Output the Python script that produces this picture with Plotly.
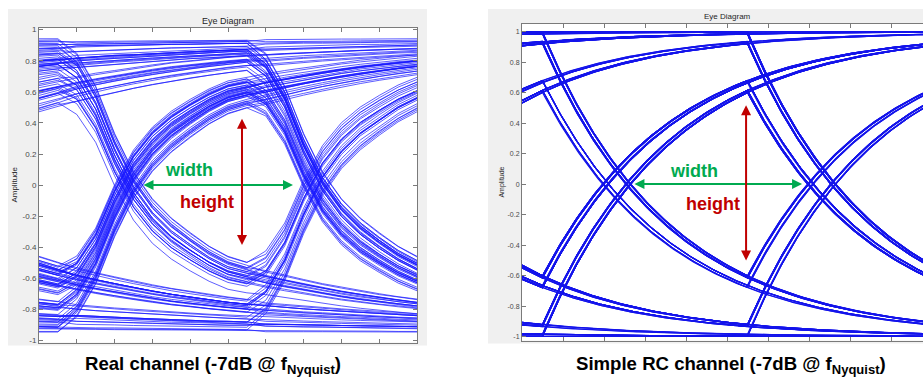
import numpy as np
import plotly.graph_objects as go

# ---------------------------------------------------------------------------
# Data
# ---------------------------------------------------------------------------
# NRZ bit stream sent through both channels (1 -> +level, 0 -> -level)
BIT_STREAM = (
    "11111110100110000001101011110010"
    "11100000110110011111110101110110"
    "00010000001011001110100011111001"
    "01101000001110110100111100001011"
    "10011010000000110101111110010011"
    "00101110000110111111010010000110"
    "1011000111101001"
    "01110010110000111010011011111000"
    "10100111001011100000101101001110"
    "11001000111110110100001011100110"
)
BITS = [int(c) for c in BIT_STREAM]

# Axis ticks (time in unit intervals, normalised amplitude)
X_TICKS = [0.0, 0.2, 0.4, 0.6, 0.8, 1.0, 1.2, 1.4, 1.6, 1.8, 2.0]
Y_TICKS = [-1.0, -0.8, -0.6, -0.4, -0.2, 0.0, 0.2, 0.4, 0.6, 0.8, 1.0]
Y_TICK_TEXT = ["-1", "-0.8", "-0.6", "-0.4", "-0.2", "0", "0.2", "0.4", "0.6", "0.8", "1"]

# Real (lossy) channel: measured step response, one sample every 0.1 UI
REAL_STEP = [
    0.000, 0.050, 0.160, 0.320, 0.450, 0.540, 0.605, 0.655, 0.700, 0.735,   # 0.0 .. 0.9
    0.755, 0.772, 0.788, 0.803, 0.817, 0.830, 0.842, 0.853, 0.863, 0.872,   # 1.0 .. 1.9
    0.880, 0.886, 0.892, 0.898, 0.903, 0.908, 0.913, 0.918, 0.922, 0.926,   # 2.0 .. 2.9
    0.930, 0.933, 0.936, 0.939, 0.942, 0.945, 0.948, 0.950, 0.952, 0.954,   # 3.0 .. 3.9
    0.956, 0.958, 0.960, 0.962, 0.963, 0.965, 0.966, 0.968, 0.969, 0.970,   # 4.0 .. 4.9
    0.972, 0.973, 0.974, 0.975, 0.976, 0.977, 0.978, 0.979, 0.980, 0.981,   # 5.0 .. 5.9
    0.982, 0.983, 0.983, 0.984, 0.985, 0.985, 0.986, 0.987, 0.987, 0.988,   # 6.0 .. 6.9
    0.989, 0.989, 0.990, 0.990, 0.991, 0.991, 0.992, 0.992, 0.993, 0.993,   # 7.0 .. 7.9
    0.994,                                                                  # 8.0
]
REAL_LEVEL = 0.955
REAL_SAMPLES_PER_UI = 10

# Single-pole RC channel
RC_LEVEL = 1.0
RC_TAU = 0.621
RC_SAMPLES_PER_UI = 100

EDGE_OFFSET = 0.1      # where the bit edge falls inside each 2-UI trace
WARMUP_BITS = 10

TITLE = "Eye Diagram"
Y_LABEL = "Amplitude"
CAPTION_LEFT = "<b>Real channel (-7dB @ f<sub>Nyquist</sub>)</b>"
CAPTION_RIGHT = "<b>Simple RC channel (-7dB @ f<sub>Nyquist</sub>)</b>"

W, H = 923, 385


def real_step(tau):
    """Look up the sampled step response (tau is on the 0.1 UI grid)."""
    idx = np.rint(tau * REAL_SAMPLES_PER_UI).astype(int)
    table = np.array(REAL_STEP)
    out = np.where(idx >= len(table), 1.0, table[np.clip(idx, 0, len(table) - 1)])
    return np.where(idx <= 0, 0.0, out)


def rc_step(tau):
    tc = np.maximum(tau, 0.0)
    return np.where(tau >= 0, 1.0 - np.exp(-tc / RC_TAU), 0.0)


def eye_traces(step, level, spu):
    b = np.where(np.array(BITS) == 1, 1.0, -1.0)
    edges = np.arange(1, len(b), dtype=float)
    jumps = b[1:] - b[:-1]
    n_tr = (len(b) - WARMUP_BITS - 1) // 2
    x_win = np.arange(2 * spu + 1) / spu
    xs, ys = [], []
    for j in range(n_tr):
        t = WARMUP_BITS + 2 * j - EDGE_OFFSET + x_win
        resp = step(t[:, None] - edges[None, :])
        y = level * (b[0] + (jumps[None, :] * resp).sum(axis=1))
        xs += list(x_win) + [None]
        ys += list(y) + [None]
    return xs, ys


def px(x):
    return x / W


def py(y):
    return 1 - y / H


rx, ry = eye_traces(real_step, REAL_LEVEL, REAL_SAMPLES_PER_UI)
cx, cy = eye_traces(rc_step, RC_LEVEL, RC_SAMPLES_PER_UI)

fig = go.Figure()
fig.add_trace(go.Scatter(x=rx, y=ry, mode="lines", xaxis="x", yaxis="y",
                         line=dict(color="rgb(0,0,255)", width=0.7),
                         opacity=0.9, hoverinfo="skip", showlegend=False))
fig.add_trace(go.Scatter(x=cx, y=cy, mode="lines", xaxis="x2", yaxis="y2",
                         line=dict(color="rgb(20,20,235)", width=1.1),
                         hoverinfo="skip", showlegend=False))

axis_col = "#7a7a7a"
FONT = "Liberation Sans, Arial"
tick_font = dict(family=FONT, size=8, color="#4a4a4a")

common_x = dict(tickvals=X_TICKS, showticklabels=False, ticks="inside", ticklen=4,
                tickcolor=axis_col, showline=True, linecolor=axis_col, linewidth=1,
                showgrid=False, zeroline=False, fixedrange=True)
common_y = dict(tickvals=Y_TICKS, ticktext=Y_TICK_TEXT, ticks="inside", ticklen=4,
                tickcolor=axis_col, showline=True, linecolor=axis_col, linewidth=1,
                showgrid=False, zeroline=False, fixedrange=True)

fig.update_layout(
    width=W, height=H, margin=dict(l=0, r=0, t=0, b=0),
    paper_bgcolor="white", plot_bgcolor="white",
    xaxis=dict(domain=[px(39), px(417)], range=[0, 2], anchor="y", mirror="ticks", **common_x),
    yaxis=dict(domain=[py(345), py(26)], range=[-1.013, 1.013], anchor="x", mirror="ticks",
               tickfont=tick_font, **common_y),
    xaxis2=dict(domain=[px(522), 1.0], range=[0, 1.956], anchor="y2", mirror="ticks", **common_x),
    yaxis2=dict(domain=[py(343), py(22)], range=[-1.026, 1.052], anchor="x2", mirror=False,
                tickfont=dict(family=FONT, size=7, color="#4a4a4a"), **common_y),
)

# figure panels
fig.update_layout(shapes=[
    dict(type="rect", xref="paper", yref="paper", x0=px(8), x1=px(427), y0=py(348), y1=py(7),
         fillcolor="#f0f0f0", line=dict(width=0), layer="below"),
    dict(type="rect", xref="paper", yref="paper", x0=px(488), x1=1.0, y0=py(346), y1=py(7),
         fillcolor="#f0f0f0", line=dict(width=0), layer="below"),
    dict(type="rect", xref="paper", yref="paper", x0=px(39), x1=px(417), y0=py(345), y1=py(26),
         fillcolor="white", line=dict(width=0), layer="below"),
    dict(type="rect", xref="paper", yref="paper", x0=px(522), x1=1.0, y0=py(343), y1=py(22),
         fillcolor="white", line=dict(width=0), layer="below"),
])


def label(text, x, y, size, color="#262626", angle=0, xref="paper", yref="paper"):
    return dict(text=text, x=x, y=y, xref=xref, yref=yref, showarrow=False,
                xanchor="center", yanchor="middle", textangle=angle,
                font=dict(family=FONT, size=size, color=color))


ann = [
    label(TITLE, px(228), py(19), 9),
    label(TITLE, px(727), py(15), 8),
    label(Y_LABEL, px(15), py(185), 8, angle=-90),
    label(Y_LABEL, px(502), py(183), 7, angle=-90),
    label(CAPTION_LEFT, px(213), py(368), 18.6, color="black"),
    label(CAPTION_RIGHT, px(731), py(368), 18.6, color="black"),
]

green = "rgb(0,170,80)"
red = "rgb(192,0,0)"

for xa, ya, wx0, wx1, hx, hy0, hy1, wl, hl in [
    ("x", "y", 0.545, 1.344, 1.074, -0.395, 0.427, (0.794, 0.10), (0.889, -0.11)),
    ("x2", "y2", 0.541, 1.366, 1.093, -0.511, 0.518, (0.839, 0.084), (0.932, -0.13)),
]:
    ann.append(dict(x=wx1, y=0, ax=wx0, ay=0, xref=xa, yref=ya, axref=xa, ayref=ya,
                    showarrow=True, arrowhead=2, arrowsize=1, arrowwidth=2,
                    arrowside="end+start", arrowcolor=green, text=""))
    ann.append(dict(x=hx, y=hy1, ax=hx, ay=hy0, xref=xa, yref=ya, axref=xa, ayref=ya,
                    showarrow=True, arrowhead=2, arrowsize=1, arrowwidth=2,
                    arrowside="end+start", arrowcolor=red, text=""))
    ann.append(label("<b>width</b>", wl[0], wl[1], 18, color=green, xref=xa, yref=ya))
    ann.append(label("<b>height</b>", hl[0], hl[1], 18, color=red, xref=xa, yref=ya))

fig.update_layout(annotations=ann)

fig.write_html("out.html")
